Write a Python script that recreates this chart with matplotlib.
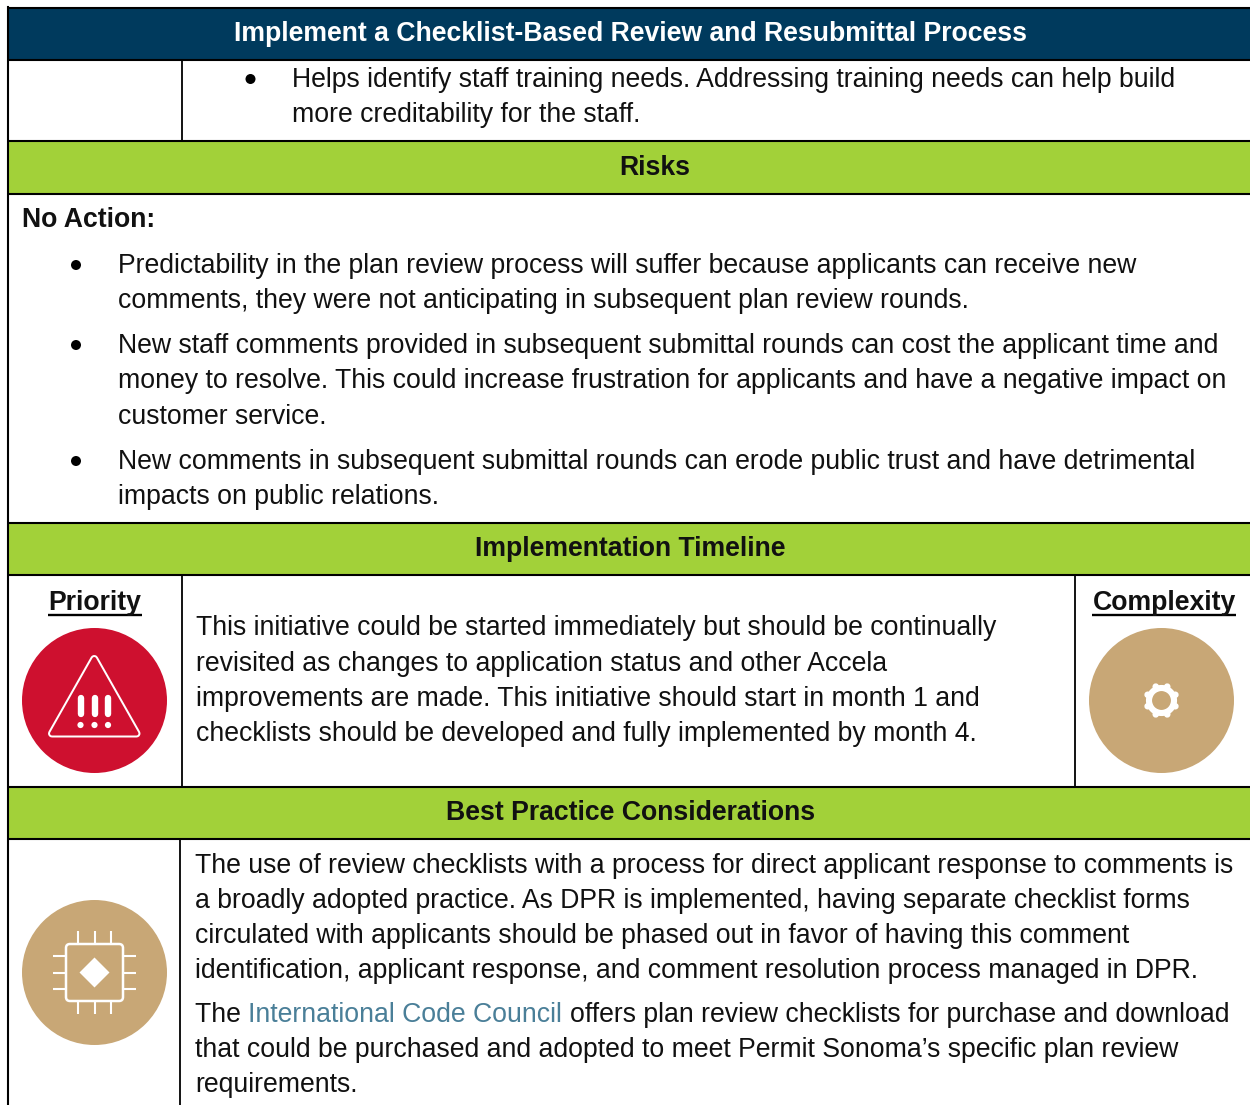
import numpy as np
import matplotlib
matplotlib.use('Agg')
import matplotlib.pyplot as plt
from matplotlib.patches import Circle, Rectangle, Polygon, FancyBboxPatch

plt.rcParams['font.family'] = ['Liberation Sans', 'DejaVu Sans']

# text
title = 'Implement a Checklist-Based Review and Resubmittal Process'
benefit_lines = ['Helps identify staff training needs. Addressing training needs can help build',
                 'more creditability for the staff.']
risk_head = 'Risks'
no_action = 'No Action:'
risk_lines = ['Predictability in the plan review process will suffer because applicants can receive new',
              'comments, they were not anticipating in subsequent plan review rounds.',
              'New staff comments provided in subsequent submittal rounds can cost the applicant time and',
              'money to resolve. This could increase frustration for applicants and have a negative impact on',
              'customer service.',
              'New comments in subsequent submittal rounds can erode public trust and have detrimental',
              'impacts on public relations.']
timeline_head = 'Implementation Timeline'
timeline_lines = ['This initiative could be started immediately but should be continually',
                  'revisited as changes to application status and other Accela',
                  'improvements are made. This initiative should start in month 1 and',
                  'checklists should be developed and fully implemented by month 4.']
best_head = 'Best Practice Considerations'
best_lines = ['The use of review checklists with a process for direct applicant response to comments is',
              'a broadly adopted practice. As DPR is implemented, having separate checklist forms',
              'circulated with applicants should be phased out in favor of having this comment',
              'identification, applicant response, and comment resolution process managed in DPR.']
best_tail = ['that could be purchased and adopted to meet Permit Sonoma\u2019s specific plan review',
             'requirements.']

# baselines in pixels
benefit_y = [87.4, 122.4]
risk_y = [273.4, 308.4, 353.4, 388.4, 424.4, 469.4, 504.4]
risk_bullets = [265, 345, 461]
timeline_y = [635.4, 671.4, 706.4, 741.4]
best_y = [873.4, 908.4, 943.4, 978.4]
tail_y = [1057.4, 1092.4]

navy = '#003A5D'
green = '#A2D139'
red = '#CE102F'
tan = '#C8A776'
link = '#4A7F98'
fs = 19.2
fs_bold = 19.2

fig = plt.figure(figsize=(12.5, 11.05), dpi=100)
ax = fig.add_axes([0, 0, 1, 1])
ax.set_xlim(0, 1250)
ax.set_ylim(1105, 0)
ax.axis('off')


def body(x, y, s, **kw):
    ax.text(x, y, s, fontsize=fs, color='#111111', va='baseline', ha='left', **kw)


def bold(x, y, s, ha='center', color='#111111'):
    ax.text(x, y, s, fontsize=fs_bold, color=color, weight='bold', ha=ha, va='baseline')


# coloured bands
ax.add_patch(Rectangle((8, 8), 1242, 52, fc=navy, ec='none'))
for top, bottom in [(141, 193), (523, 575), (787, 839)]:
    ax.add_patch(Rectangle((8, top), 1242, bottom - top, fc=green, ec='none'))

# rules
for y in [7.5, 60, 140.5, 193.5, 523, 575, 787, 839]:
    ax.plot([7, 1250], [y, y], color='black', lw=1.5, solid_capstyle='butt')
ax.plot([8, 8], [7, 1105], color='black', lw=1.5)
ax.plot([182, 182], [60, 140], color='black', lw=1.3)
ax.plot([182, 182], [575, 787], color='black', lw=1.3)
ax.plot([1075, 1075], [575, 787], color='black', lw=1.3)
ax.plot([180, 180], [839, 1105], color='black', lw=1.3)

# headings
bold(630, 41.4, title, color='white')
bold(654.5, 175.4, risk_head)
bold(630.5, 556.4, timeline_head)
bold(631, 820.4, best_head)
bold(22, 227.4, no_action, ha='left')

# body text
ax.add_patch(Circle((250.5, 79), 5, fc='black', ec='none'))
for y, s in zip(benefit_y, benefit_lines):
    body(292, y, s)
for y in risk_bullets:
    ax.add_patch(Circle((76, y), 5, fc='black', ec='none'))
for y, s in zip(risk_y, risk_lines):
    body(118, y, s)
for y, s in zip(timeline_y, timeline_lines):
    body(196, y, s)
for y, s in zip(best_y, best_lines):
    body(195, y, s)
body(195, 1022.4, 'The ')
ax.text(248, 1022.4, 'International Code Council', fontsize=fs, color=link, va='baseline')
body(570, 1022.4, 'offers plan review checklists for purchase and download')
for y, s in zip(tail_y, best_tail):
    body(195, y, s)

# underlined labels
bold(94.5, 610.4, 'Priority')
ax.plot([48, 142], [614.5, 614.5], color='black', lw=1.7, solid_capstyle='butt')
bold(1164, 610.4, 'Complexity')
ax.plot([1092, 1236], [614.5, 614.5], color='black', lw=1.7, solid_capstyle='butt')

# priority icon
ax.add_patch(Circle((94.5, 700.5), 72.5, fc=red, ec='none'))
tri = [(94.25, 659), (136.5, 733.5), (52, 733.5)]
ax.add_patch(Polygon(tri, closed=True, fc='white', ec='white', lw=5.76, joinstyle='round'))
ax.add_patch(Polygon(tri, closed=True, fc=red, ec=red, lw=2.88, joinstyle='round'))
for x in [80.5, 94.5, 108]:
    ax.plot([x, x], [698, 714], color='white', lw=4.6, solid_capstyle='round')
    ax.add_patch(Circle((x, 725), 3.1, fc='white', ec='none'))

# complexity icon
ax.add_patch(Circle((1161.5, 700.5), 72.5, fc=tan, ec='none'))
ax.add_patch(Circle((1161.5, 700.5), 12.5, fc='none', ec='white', lw=4.4))
for a in np.deg2rad(np.arange(22.5, 360, 45)):
    ax.plot([1161.5 + 13 * np.cos(a), 1161.5 + 15 * np.cos(a)],
            [700.5 + 13 * np.sin(a), 700.5 + 15 * np.sin(a)],
            color='white', lw=4.8, solid_capstyle='round')

# chip icon
ax.add_patch(Circle((94.5, 972.5), 72.5, fc=tan, ec='none'))
ax.add_patch(FancyBboxPatch((70, 948), 49, 49, boxstyle='round,pad=4', fc='none', ec='white', lw=1.8))
for d in [-16.5, 0, 16.5]:
    ax.plot([94.5 + d, 94.5 + d], [931, 944], color='white', lw=1.5, solid_capstyle='butt')
    ax.plot([94.5 + d, 94.5 + d], [1001, 1014], color='white', lw=1.5, solid_capstyle='butt')
    ax.plot([53, 66], [972.5 + d, 972.5 + d], color='white', lw=1.5, solid_capstyle='butt')
    ax.plot([123, 136], [972.5 + d, 972.5 + d], color='white', lw=1.5, solid_capstyle='butt')
ax.add_patch(Polygon([(94.5, 957.5), (109.5, 972.5), (94.5, 987.5), (79.5, 972.5)], closed=True,
                     fc='white', ec='none'))

fig.savefig('out.png', dpi=100)
